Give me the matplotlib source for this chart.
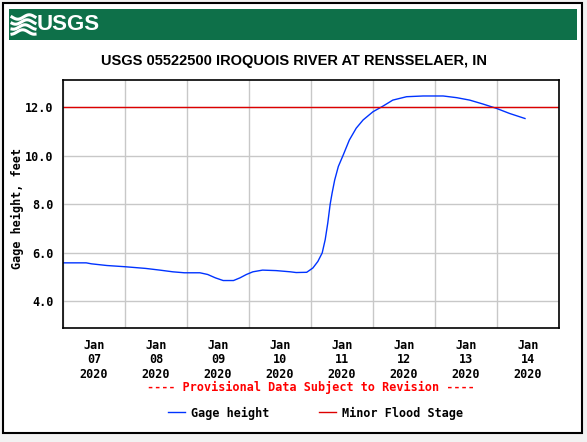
import numpy as np
import pandas as pd
import matplotlib
matplotlib.use("Agg")
import matplotlib.pyplot as plt
import matplotlib.dates as mdates
from matplotlib.patches import Rectangle
from matplotlib.lines import Line2D

# Gage height readings
times = ["2020-01-07 00:00", "2020-01-07 09:00", "2020-01-07 11:00", "2020-01-07 17:00",
         "2020-01-08 00:00", "2020-01-08 08:00", "2020-01-08 13:30", "2020-01-08 18:30",
         "2020-01-08 23:00", "2020-01-09 05:00", "2020-01-09 08:00", "2020-01-09 11:00",
         "2020-01-09 14:00", "2020-01-09 18:00", "2020-01-09 20:30", "2020-01-09 23:00",
         "2020-01-10 01:30", "2020-01-10 05:15", "2020-01-10 10:30", "2020-01-10 16:00",
         "2020-01-10 18:15", "2020-01-10 22:20", "2020-01-11 00:45", "2020-01-11 02:40",
         "2020-01-11 04:20", "2020-01-11 05:30", "2020-01-11 06:30", "2020-01-11 07:25",
         "2020-01-11 08:10", "2020-01-11 09:10", "2020-01-11 10:35", "2020-01-11 12:30",
         "2020-01-11 14:50", "2020-01-11 17:30", "2020-01-11 20:10", "2020-01-12 00:00",
         "2020-01-12 03:50", "2020-01-12 07:40", "2020-01-12 13:00", "2020-01-12 19:25",
         "2020-01-13 03:10", "2020-01-13 08:25", "2020-01-13 13:25", "2020-01-13 18:30",
         "2020-01-13 23:45", "2020-01-14 04:50", "2020-01-14 10:50"]
gage_height = [5.58, 5.58, 5.54, 5.47,
               5.42, 5.35, 5.28, 5.21,
               5.17, 5.17, 5.10, 4.96,
               4.85, 4.85, 4.96, 5.10,
               5.21, 5.28, 5.26, 5.21,
               5.18, 5.19, 5.37, 5.64,
               5.99, 6.54, 7.23, 8.00,
               8.46, 9.00, 9.56, 10.04,
               10.65, 11.14, 11.48, 11.82,
               12.05, 12.30, 12.44, 12.47,
               12.47, 12.40, 12.30, 12.14,
               11.96, 11.75, 11.54]
minor_flood_stage = 12.0
yticks = [4.0, 6.0, 8.0, 10.0, 12.0]

t = pd.to_datetime(times)
W, H = 587, 442
mono = "DejaVu Sans Mono"

fig = plt.figure(figsize=(W / 100, H / 100), dpi=100, facecolor="#f2f2f2")

# outer frame, banner (kept behind the axes)
fig.add_artist(Rectangle((3 / W, 1 - 433 / H), 579 / W, 430 / H, transform=fig.transFigure,
                         facecolor="white", edgecolor="black", linewidth=1.5, zorder=-10))
fig.add_artist(Rectangle((9 / W, 1 - 40 / H), 568 / W, 31 / H, transform=fig.transFigure,
                         facecolor="#0e7049", edgecolor="none", zorder=-9))
# little wave logo
wx = np.linspace(12, 35, 40)
for k, y0 in enumerate([17, 22, 27, 32]):
    wy = y0 + 2.2 * np.sin((wx - 12) / 23 * 2 * np.pi + k * 0.6)
    fig.add_artist(Line2D(wx / W, 1 - wy / H, transform=fig.transFigure,
                          color="white", linewidth=2.2))
fig.text(37 / W, 1 - 25 / H, "USGS", color="white", fontsize=16, fontweight="bold",
         family="Liberation Sans", ha="left", va="center")

fig.text(294 / W, 1 - 60.5 / H, "USGS 05522500 IROQUOIS RIVER AT RENSSELAER, IN",
         fontsize=10.5, fontweight="bold", family="Liberation Sans",
         ha="center", va="center")

ax = fig.add_axes([63 / W, 1 - 328 / H, 496 / W, 248 / H])
ax.plot(t, gage_height, color="#0033ff", linewidth=1.0, label="Gage height")
ax.axhline(minor_flood_stage, color="#dd0000", linewidth=1.0, label="Minor Flood Stage")

ax.set_xlim(pd.Timestamp("2020-01-07"), pd.Timestamp("2020-01-15"))
ax.set_ylim(2.89, 13.13)
ax.set_yticks(yticks)
ax.set_yticklabels([f"{v:.1f}" for v in yticks], family=mono, fontweight="bold", fontsize=8.5)

ax.xaxis.set_major_locator(mdates.DayLocator())
ax.xaxis.set_major_formatter(plt.NullFormatter())
ax.xaxis.set_minor_locator(mdates.HourLocator(byhour=[12]))
ax.xaxis.set_minor_formatter(mdates.DateFormatter("%b\n%d\n%Y"))
ax.tick_params(axis="x", which="minor", length=0, pad=8, labelsize=8.5)
ax.tick_params(axis="both", which="major", length=0, pad=7)
ax.grid(True, which="major", color="#c8c8c8", linewidth=1.0)
ax.set_axisbelow(True)
for s in ax.spines.values():
    s.set_linewidth(1.2)

fig.canvas.draw()
for lbl in ax.xaxis.get_minorticklabels():
    lbl.set_family(mono)
    lbl.set_fontweight("bold")
    lbl.set_linespacing(1.12)

fig.text(17 / W, 1 - 208 / H, "Gage height, feet", rotation=90, family=mono,
         fontweight="bold", fontsize=8.5, ha="center", va="center")
fig.text(311 / W, 1 - 387 / H, "---- Provisional Data Subject to Revision ----",
         color="#ff0000", family=mono, fontweight="bold", fontsize=8.5,
         ha="center", va="center")

fig.legend(loc="center", bbox_to_anchor=(315.5 / W, 1 - 413 / H), ncol=2, frameon=False,
           prop={"family": mono, "weight": "bold", "size": 8.5},
           handlelength=1.45, handletextpad=0.5, columnspacing=4.15)

fig.savefig("out.png", dpi=100, facecolor=fig.get_facecolor())
